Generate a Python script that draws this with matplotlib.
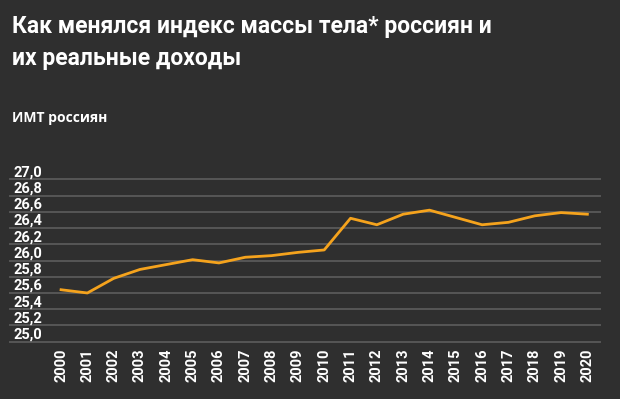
import matplotlib
matplotlib.use("Agg")
import matplotlib.pyplot as plt
import matplotlib.transforms as mtransforms

# данные: ИМТ россиян по годам
years = list(range(2000, 2021))
bmi = [25.64, 25.60, 25.78, 25.89, 25.95, 26.01, 25.97, 26.04, 26.06, 26.10,
       26.13, 26.52, 26.44, 26.57, 26.62, 26.53, 26.44, 26.47, 26.55, 26.59, 26.57]
yticks = [25.0, 25.2, 25.4, 25.6, 25.8, 26.0, 26.2, 26.4, 26.6, 26.8, 27.0]

title = "Как менялся индекс массы тела* россиян и\nих реальные доходы"
subtitle = "ИМТ россиян"

bg = "#2f2f2f"
grid_c = "#575757"
line_c = "#f5a31d"
txt_c = "#ffffff"

fig = plt.figure(figsize=(6.2, 3.99), dpi=100, facecolor=bg)
W, H = 620, 399

# оси: 27,0 на y=179, 25,0 на y=342 (пиксели)
ax = fig.add_axes([10 / W, 1 - 341.7 / H, 590 / W, (341.7 - 179.3) / H])
ax.set_facecolor(bg)
for s in ax.spines.values():
    s.set_visible(False)

ax.set_ylim(25.0, 27.0)
ax.set_xlim(1998.06, 2020.48)

for v in yticks:
    ax.axhline(v, color=grid_c, lw=1.4, zorder=1, clip_on=False)

ax.plot(years, bmi, color=line_c, lw=2, zorder=3, clip_on=False)

ax.set_yticks([])
ax.set_xticks(years)
ax.set_xticklabels([str(y) for y in years], rotation=90, color=txt_c,
                   fontsize=10.5, fontweight="bold", family="Roboto")
ax.tick_params(axis="x", length=0, pad=5)

# подписи оси Y над линиями сетки, с запятой
trans = mtransforms.blended_transform_factory(fig.transFigure, ax.transData)
for v in yticks:
    ax.text(13 / W, v, ("%.1f" % v).replace(".", ","), transform=trans,
            ha="left", va="bottom", color=txt_c, fontsize=10.5, fontweight="bold",
            family="Roboto")

fig.text(12 / W, 1 - 33 / H, title.split("\n")[0], color=txt_c, fontsize=16.5,
         fontweight="bold", family="Roboto", va="baseline")
fig.text(12 / W, 1 - 65 / H, title.split("\n")[1], color=txt_c, fontsize=16.5,
         fontweight="bold", family="Roboto", va="baseline")
fig.text(12 / W, 1 - 122 / H, subtitle, color=txt_c, fontsize=10, fontweight="bold",
         family="Open Sans", va="baseline")

fig.savefig("out.png", dpi=100, facecolor=bg)
